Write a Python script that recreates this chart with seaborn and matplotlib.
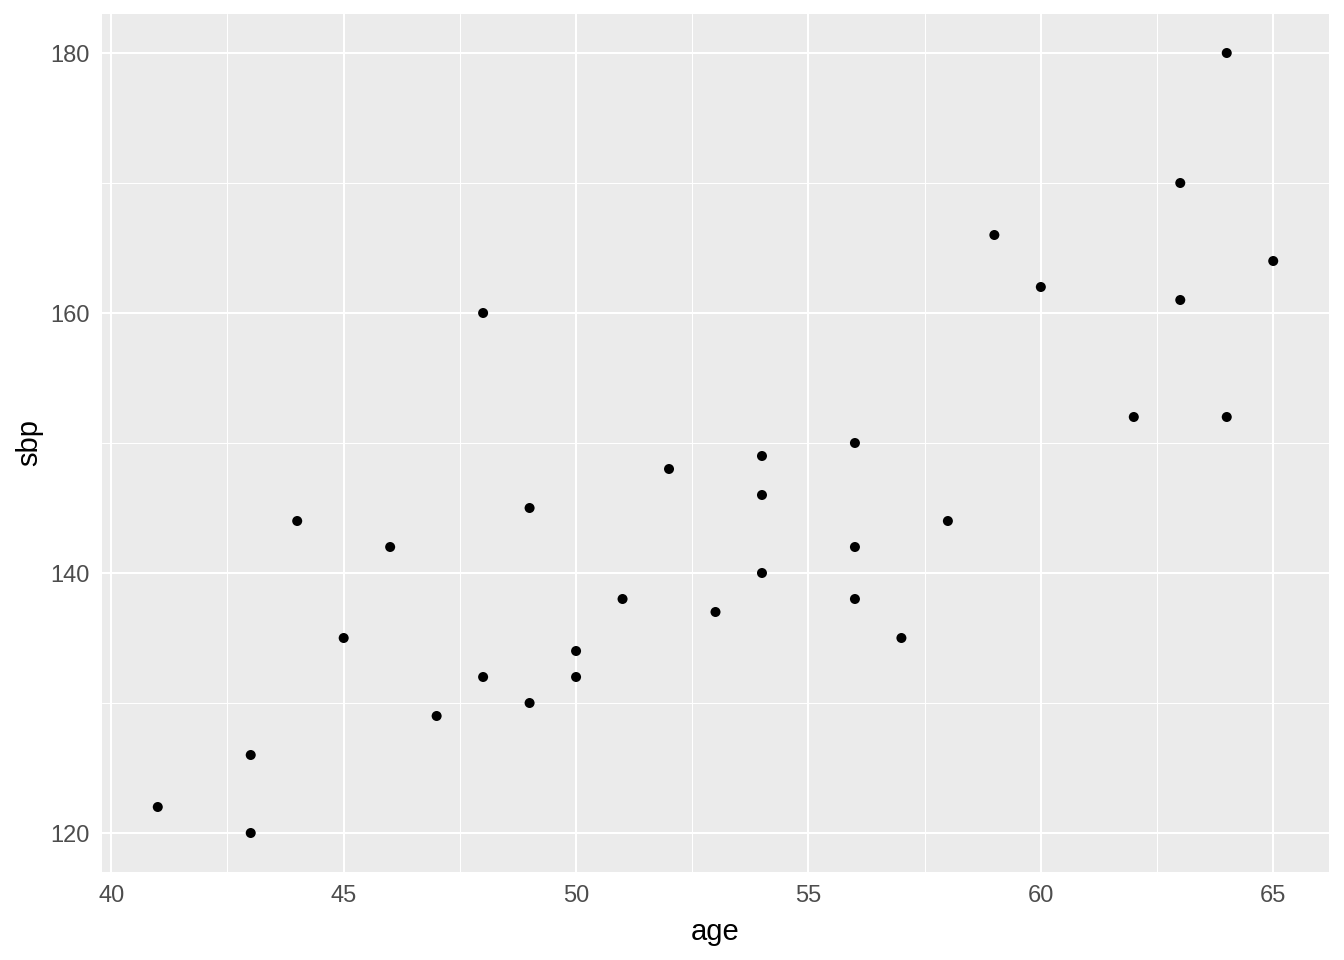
import pandas as pd
import matplotlib.pyplot as plt
import seaborn as sns
from matplotlib.ticker import MultipleLocator

age = [41, 43, 43, 44, 45, 46, 47, 48, 48, 49, 49, 50, 50, 51, 52, 53,
       54, 54, 54, 56, 56, 56, 57, 58, 59, 60, 62, 63, 63, 64, 64, 65]
sbp = [122, 126, 120, 144, 135, 142, 129, 160, 132, 145, 130, 134, 132, 138, 148, 137,
       149, 146, 140, 150, 142, 138, 135, 144, 166, 162, 152, 170, 161, 180, 152, 164]

df = pd.DataFrame({"age": age, "sbp": sbp})

sns.set_style("darkgrid", {"axes.facecolor": "#EBEBEB", "grid.color": "white"})
plt.rcParams["font.family"] = ["Liberation Sans", "DejaVu Sans"]

fig = plt.figure(figsize=(13.44, 9.6), dpi=100)
ax = fig.add_axes([102 / 1344, 1 - 872 / 960, (1329 - 102) / 1344, (872 - 14) / 960])

sns.scatterplot(x="age", y="sbp", data=df, ax=ax, color="black", s=52,
                edgecolor="none", zorder=3)

ax.set_xlim(39.8, 66.2)
ax.set_ylim(117, 183)
ax.xaxis.set_major_locator(MultipleLocator(5))
ax.xaxis.set_minor_locator(MultipleLocator(2.5))
ax.yaxis.set_major_locator(MultipleLocator(20))
ax.yaxis.set_minor_locator(MultipleLocator(10))
ax.grid(which="major", color="white", linewidth=1.5)
ax.grid(which="minor", color="white", linewidth=0.75)
ax.set_axisbelow(True)
for sp in ax.spines.values():
    sp.set_visible(False)

ax.tick_params(which="major", length=5, width=1.4, color="#333333",
               labelsize=17, labelcolor="#4D4D4D", pad=4)
ax.tick_params(which="minor", length=0)
ax.set_xlabel("age", fontsize=21, color="black", labelpad=8)
ax.set_ylabel("sbp", fontsize=21, color="black", labelpad=5)

fig.savefig("out.png", dpi=100)
